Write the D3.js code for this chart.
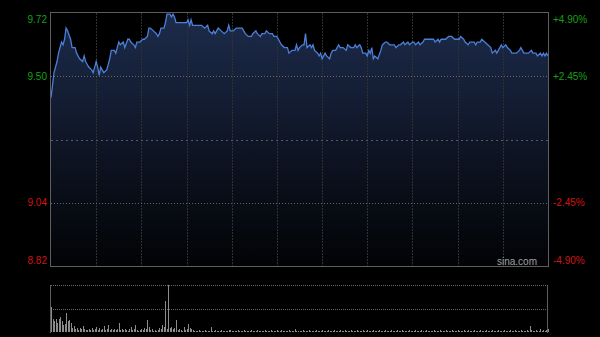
<!DOCTYPE html>
<html>
<head>
<meta charset="utf-8">
<script src="https://cdn.jsdelivr.net/npm/d3@7"></script>
<style>
  body { margin: 0; background: #000; }
  svg { display: block; }
  text { font-family: Arial, "Liberation Sans", sans-serif; font-size: 10px; }
</style>
</head>
<body>
<div id="chart"></div>
<script>
// previous close and axis labels
const prevClose = 9.27;
const pctTicks = [4.9, 2.45, -2.45, -4.9];
const priceLabels = ["9.72", "9.50", "9.04", "8.82"];
const pctLabels = ["+4.90%", "+2.45%", "-2.45%", "-4.90%"];
const gridMinutes = [30, 60, 90, 120, 150, 180, 210, 240, 270, 300];

// [minute of session, price]
const priceSeries = [
  [0,9.42],[2,9.51],[4,9.55],[5,9.58],[7,9.62],[8,9.61],[9,9.63],[10,9.67],[11,9.66],[13,9.63],
  [14,9.60],[16,9.60],[17,9.58],[19,9.56],[21,9.55],[22,9.57],[23,9.55],[24,9.54],[25,9.53],[27,9.52],
  [28,9.51],[29,9.53],[30,9.55],[31,9.53],[32,9.50],[33,9.53],[34,9.52],[35,9.51],[37,9.52],[38,9.54],
  [39,9.56],[40,9.59],[42,9.59],[43,9.58],[44,9.60],[45,9.62],[46,9.61],[48,9.62],[49,9.60],[51,9.63],
  [52,9.63],[53,9.62],[55,9.61],[56,9.60],[57,9.62],[59,9.62],[61,9.63],[62,9.63],[64,9.64],[65,9.67],
  [66,9.67],[68,9.66],[70,9.65],[71,9.64],[72,9.65],[73,9.67],[75,9.67],[76,9.69],[77,9.72],[79,9.72],
  [80,9.71],[81,9.72],[82,9.71],[83,9.69],[85,9.69],[86,9.69],[88,9.69],[90,9.69],[91,9.70],[92,9.68],
  [93,9.70],[94,9.68],[97,9.68],[100,9.68],[102,9.67],[104,9.68],[105,9.66],[107,9.65],[108,9.66],[109,9.65],
  [111,9.67],[113,9.66],[115,9.65],[117,9.66],[118,9.68],[119,9.66],[121,9.66],[123,9.67],[127,9.67],[129,9.65],
  [131,9.64],[133,9.64],[134,9.65],[136,9.66],[137,9.65],[139,9.64],[140,9.65],[142,9.65],[143,9.66],[145,9.65],
  [147,9.65],[148,9.64],[150,9.64],[152,9.62],[153,9.61],[155,9.60],[157,9.60],[158,9.58],[160,9.59],[162,9.59],
  [163,9.61],[164,9.59],[165,9.60],[167,9.61],[168,9.61],[169,9.65],[170,9.60],[172,9.61],[173,9.60],[174,9.61],
  [175,9.59],[177,9.58],[178,9.57],[179,9.58],[180,9.56],[182,9.58],[183,9.57],[185,9.56],[186,9.58],[187,9.59],
  [189,9.59],[191,9.61],[192,9.60],[194,9.60],[196,9.59],[197,9.61],[199,9.60],[201,9.60],[202,9.61],[203,9.60],
  [205,9.61],[206,9.60],[207,9.58],[209,9.58],[210,9.57],[211,9.59],[212,9.58],[213,9.60],[214,9.56],[215,9.57],
  [217,9.56],[219,9.59],[220,9.61],[222,9.62],[223,9.62],[225,9.61],[226,9.61],[228,9.61],[229,9.60],[231,9.61],
  [232,9.61],[234,9.62],[235,9.61],[237,9.62],[238,9.61],[240,9.62],[241,9.62],[242,9.61],[244,9.62],[245,9.61],
  [247,9.62],[248,9.63],[250,9.63],[252,9.63],[254,9.63],[255,9.62],[257,9.63],[258,9.62],[259,9.63],[260,9.63],
  [262,9.63],[264,9.64],[266,9.64],[268,9.63],[269,9.63],[271,9.63],[272,9.64],[274,9.63],[275,9.62],[277,9.61],
  [278,9.62],[281,9.62],[282,9.61],[283,9.62],[285,9.62],[286,9.63],[288,9.62],[290,9.61],[292,9.60],[293,9.58],
  [295,9.59],[296,9.58],[298,9.60],[299,9.61],[300,9.60],[302,9.61],[303,9.60],[305,9.59],[306,9.58],[308,9.58],
  [309,9.58],[311,9.59],[312,9.60],[314,9.58],[315,9.58],[317,9.58],[319,9.59],[320,9.58],[322,9.58],[323,9.57],
  [325,9.58],[326,9.57],[327,9.58],[328,9.57],[329,9.58],[330,9.57]
];

// volume per minute, minute 0 .. 330
const volumes = [
  25,13,11,13,9,13,15,11,7,8, 19,11,12,9,4,6,3,4,2,4,
  3,6,3,2,2,3,2,4,2,3, 5,2,4,2,3,6,2,3,7,2,
  3,2,3,2,3,9,2,3,2,3, 2,1,3,5,2,3,7,2,1,2,
  3,2,4,3,12,5,2,3,1,2, 1,2,4,3,7,5,31,3,47,4,
  5,3,4,12,2,3,2,1,5,2, 3,8,4,3,2,1,
  1,1,2,1,1,1,2,1,1,1, 5,1,1,2,1,1,1,2,1,1,
  1,1,2,2,1,1,1,1,2,1, 1,1,2,1,1,1,1,2,1,1,
  1,2,1,1,1,1,2,1,1,1, 2,1,1,1,2,1,1,2,1,1,
  1,1,2,1,1,1,3,1,1,1, 1,2,1,1,1,2,1,1,1,1,
  2,1,1,1,2,1,1,1,2,1, 1,1,2,1,1,1,2,1,1,2,
  1,1,1,2,1,1,1,2,1,1, 1,2,1,1,2,1,1,1,2,1,
  1,1,2,1,1,1,2,1,1,1, 2,1,1,1,2,1,1,2,1,1,
  1,1,2,1,1,1,2,1,1,1, 2,1,1,2,1,1,1,1,2,1,
  1,1,2,1,1,1,2,1,1,1, 2,1,1,1,2,1,1,1,2,1,
  1,2,1,1,1,2,1,1,1,2, 1,1,1,2,1,1,1,2,1,1,
  1,2,1,1,1,2,1,1,1,2, 1,1,2,1,1,1,2,1,1,1,
  2,1,6,2,1,1,2,1,1,3, 1,2,1,2,3
];

var width = 600, height = 337;
var plot = {left: 51, right: 548, top: 13, bottom: 266};
var vol = {top: 285, bottom: 332};

var svg = d3.select("#chart").append("svg")
  .attr("width", width)
  .attr("height", height)
  .style("background", "#000");

var x = d3.scaleLinear().domain([0, 330]).range([plot.left, plot.right]);
var yPct = d3.scaleLinear().domain([-4.9, 4.9]).range([plot.bottom, plot.top]);
var yPrice = p => yPct((p / prevClose - 1) * 100);
var yVol = d3.scaleLinear().domain([0, d3.max(volumes)]).range([vol.bottom, vol.top]);

// gradient under the line
var grad = svg.append("defs").append("linearGradient")
  .attr("id", "areaFill")
  .attr("gradientUnits", "userSpaceOnUse")
  .attr("x1", 0).attr("y1", plot.top)
  .attr("x2", 0).attr("y2", plot.bottom);
grad.append("stop").attr("offset", "0%").attr("stop-color", "#1d2c4c");
grad.append("stop").attr("offset", "50%").attr("stop-color", "#0f1627");
grad.append("stop").attr("offset", "100%").attr("stop-color", "#020305");

// area + line
svg.append("path")
  .datum(priceSeries)
  .attr("fill", "url(#areaFill)")
  .attr("d", d3.area()
    .x(d => x(d[0]))
    .y0(plot.bottom)
    .y1(d => yPrice(d[1])));

// vertical grid
svg.append("g").selectAll("line")
  .data(gridMinutes)
  .enter().append("line")
    .attr("x1", d => Math.round(x(d)) + 0.5)
    .attr("x2", d => Math.round(x(d)) + 0.5)
    .attr("y1", plot.top)
    .attr("y2", plot.bottom)
    .style("stroke", "#303030")
    .style("stroke-dasharray", "2,1");

// horizontal grid
svg.append("g").selectAll("line")
  .data([2.45, -2.45])
  .enter().append("line")
    .attr("x1", plot.left)
    .attr("x2", plot.right)
    .attr("y1", d => Math.round(yPct(d)) + 0.5)
    .attr("y2", d => Math.round(yPct(d)) + 0.5)
    .style("stroke", "#666")
    .style("stroke-dasharray", "1,2");

svg.append("line")
  .attr("x1", plot.left).attr("x2", plot.right)
  .attr("y1", Math.round(yPct(0)) + 0.5).attr("y2", Math.round(yPct(0)) + 0.5)
  .style("stroke", "#5a5a5a")
  .style("stroke-dasharray", "2,3");

svg.append("path")
  .datum(priceSeries)
  .attr("fill", "none")
  .attr("stroke", "#4b7fd9")
  .attr("stroke-width", 1.3)
  .attr("d", d3.line()
    .x(d => x(d[0]))
    .y(d => yPrice(d[1])));

// frame
svg.append("rect")
  .attr("x", plot.left - 0.5)
  .attr("y", plot.top - 0.5)
  .attr("width", plot.right - plot.left + 1)
  .attr("height", plot.bottom - plot.top + 1)
  .style("fill", "none")
  .style("stroke", "#5e5e5e");

// labels
var labelY = (d, i) => yPct(d) + (i === 0 ? 9.5 : i === pctTicks.length - 1 ? -2 : 3.5);
var labelColor = d => d > 0 ? "#16a016" : "#cf1414";

svg.append("g").selectAll("text")
  .data(pctTicks)
  .enter().append("text")
    .attr("x", plot.left - 4)
    .attr("y", labelY)
    .attr("text-anchor", "end")
    .style("fill", labelColor)
    .text((d, i) => priceLabels[i]);

svg.append("g").selectAll("text")
  .data(pctTicks)
  .enter().append("text")
    .attr("x", plot.right + 5)
    .attr("y", labelY)
    .style("fill", labelColor)
    .text((d, i) => pctLabels[i]);

svg.append("text")
  .attr("x", 537)
  .attr("y", 265)
  .attr("text-anchor", "end")
  .style("fill", "#a0a0a0")
  .text("sina.com");

// volume panel
svg.append("g").selectAll("line")
  .data([vol.top, (vol.top + vol.bottom) / 2])
  .enter().append("line")
    .attr("x1", plot.left)
    .attr("x2", plot.right)
    .attr("y1", d => Math.round(d) + 0.5)
    .attr("y2", d => Math.round(d) + 0.5)
    .style("stroke", "#666")
    .style("stroke-dasharray", "1,1");

svg.append("g").selectAll("rect")
  .data(volumes)
  .enter().append("rect")
    .attr("x", (d, i) => Math.round(x(i)))
    .attr("y", d => yVol(d))
    .attr("width", 1)
    .attr("height", d => vol.bottom - yVol(d))
    .style("fill", "#8c8c8c");

svg.append("g").selectAll("line")
  .data([plot.left, plot.right])
  .enter().append("line")
    .attr("x1", d => d - 0.5)
    .attr("x2", d => d - 0.5)
    .attr("y1", vol.top)
    .attr("y2", vol.bottom + 1)
    .style("stroke", "#5e5e5e");
</script>
</body>
</html>
